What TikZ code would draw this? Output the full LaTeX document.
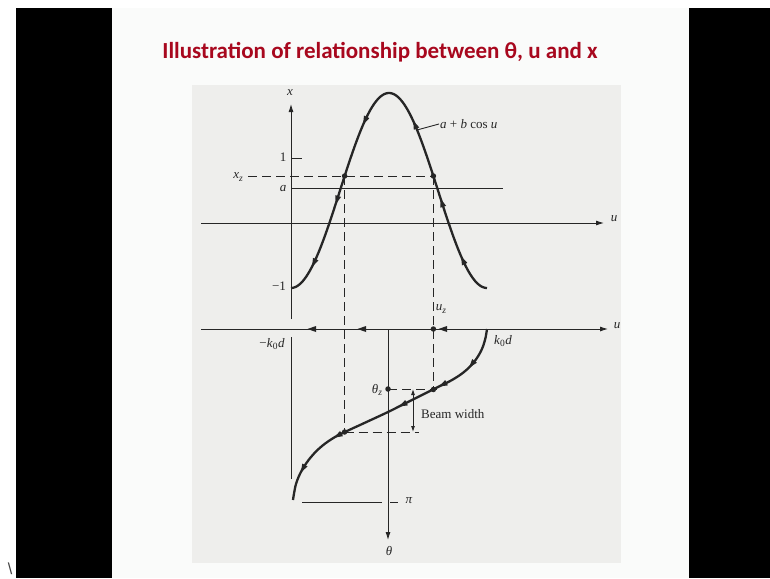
\documentclass[tikz,border=0pt]{standalone}
\usepackage{fontspec}
\setmainfont{Liberation Serif}
\newfontfamily\titlefont{Carlito}
\newfontfamily\sansf{Liberation Sans}
\usetikzlibrary{arrows.meta}
\definecolor{titlered}{RGB}{168,8,30}
\definecolor{ink}{RGB}{38,38,38}
\definecolor{scan}{RGB}{238,238,236}
\definecolor{slide}{RGB}{250,251,250}
\newcommand\arrowmark[3]{\fill[ink, shift={(#1,#2)}, rotate=#3] (4.5pt,0pt) -- (-4pt,3pt) -- (-4pt,-3pt) -- cycle;}
\newcommand\lsub[1]{\raisebox{-0.45ex}{\fontsize{9.5}{10}\selectfont #1}}
\newcommand\iv[1]{\textit{#1}}
\begin{document}
\begin{tikzpicture}[x=1pt,y=-1pt,
  thinline/.style={ink, line width=0.9pt},
  curve/.style={ink, line width=2.3pt, line join=round},
  dashline/.style={ink, line width=0.9pt, dash pattern=on 9pt off 5pt},
  dot/.style={circle, fill=ink, inner sep=0pt, minimum size=5.5pt},
  lbl/.style={text=ink, font=\fontsize{13}{15}\selectfont, inner sep=0pt},
  axarrow/.style={-{Latex[length=8pt,width=5pt]}},
]
\useasboundingbox (0,0) rectangle (770,578);
\fill[white] (0,0) rectangle (770,578);
\fill[black] (16,8) rectangle (112,578);
\fill[black] (689,8) rectangle (770,578);
\fill[slide] (112,8) rectangle (689,578);
\fill[scan] (192,85) rectangle (621,563);

\node[font=\titlefont\bfseries\fontsize{23}{26}\selectfont, text=titlered, inner sep=0pt] (title) at (380,52) {Illustration of relationship between θ, u and x};
\node[font=\sansf\fontsize{16}{16}\selectfont, text=black!75, inner sep=0pt] (bs) at (10,569) {\textbackslash};

% coordinates
\coordinate (xtop) at (291,104);
\coordinate (xbot) at (291,319);
\coordinate (u1L) at (201,223);
\coordinate (u1R) at (604,223);
\coordinate (u2L) at (201,329);
\coordinate (u2R) at (608,329);
\coordinate (kL1) at (291,337);
\coordinate (kL2) at (291,479);
\coordinate (thTop) at (388,329);
\coordinate (thBot) at (388,540);
\coordinate (aL) at (291,188);
\coordinate (aR) at (503,188);
\coordinate (t1a) at (291,158);
\coordinate (t1b) at (302,158);
\coordinate (xzL) at (248,176);
\coordinate (piL) at (302,502);
\coordinate (piR) at (382,502);
\coordinate (piTa) at (390,502);
\coordinate (piTb) at (398,502);
\coordinate (thzR) at (437,389);
\coordinate (bdL) at (344.6,432);
\coordinate (bdR) at (419,432);
\coordinate (bwT) at (413,389);
\coordinate (bwB) at (413,432);
\coordinate (ldA) at (417,130);
\coordinate (ldB) at (439,124);

% axes
\draw[thinline, axarrow] (xbot) -- (xtop);
\draw[thinline, axarrow] (u1L) -- (u1R);
\draw[thinline, axarrow] (u2L) -- (u2R);
\draw[thinline] (kL1) -- (kL2);
\draw[thinline, axarrow] (thTop) -- (thBot);
\draw[thinline] (aL) -- (aR);
\draw[thinline] (t1a) -- (t1b);
\draw[thinline] (piL) -- (piR);
\draw[thinline] (piTa) -- (piTb);

% dots
\node[dot] (pxzL) at (344.6,176) {};
\node[dot] (pxzR) at (433.4,176) {};
\node[dot] (puz) at (433.4,329) {};
\node[dot] (pthz) at (388,389) {};
\node[dot] (pc1) at (433.4,389.5) {};
\node[dot] (pc2) at (344.6,432) {};

% dashed lines
\draw[dashline] (xzL) -- (pxzR.center);
\draw[dashline] (pxzL.center) -- (pc2.center);
\draw[dashline] (pxzR.center) -- (pc1.center);
\draw[dashline] (pthz.center) -- (thzR);
\draw[dashline] (bdL) -- (bdR);

% beam width
\draw[thinline, {Latex[length=6pt,width=4pt]}-{Latex[length=6pt,width=4pt]}] (bwT) -- (bwB);

% upper curve
\draw[curve] plot[domain=98:-98, samples=150, smooth] ({389+\x}, {223-65*(0.5+1.5*cos(1.83673*(\x)))});
\foreach \t in {74,53,26,-24,-52,-75}{
  \pgfmathsetmacro\px{389+\t}
  \pgfmathsetmacro\py{223-65*(0.5+1.5*cos(1.83673*(\t)))}
  \pgfmathsetmacro\ang{atan2(3.126*sin(1.83673*(\t)),-1)}
  \arrowmark{\px}{\py}{\ang}
}
\draw[thinline] (ldA) -- (ldB);

% lower curve
\draw[curve] plot[smooth, tension=0.6] coordinates {(487,329) (485,340) (481,351) (474,362) (464,372) (452,380) (441,385.5) (433,389.5) (418,397) (403,404.5) (388,412) (373,419) (360,425) (347,431) (335,437) (322,446) (311,457) (302,470) (296,484) (293,500)};
\arrowmark{472}{364}{231}
\arrowmark{443}{384.5}{207}
\arrowmark{403}{404.5}{207}
\arrowmark{338}{435.5}{209}
\arrowmark{303}{468.5}{241}

% arrows on lower u axis
\arrowmark{312}{329}{180}
\arrowmark{362}{329}{180}
\arrowmark{443}{329}{180}

% labels
\node[lbl] (lx) at (290,93) {\iv{x}};
\node[lbl] (l1) at (283,157) {1};
\node[lbl] (lxz) at (238,177) {\iv{x}\lsub{\iv{z}}};
\node[lbl] (la) at (283,189) {\iv{a}};
\node[lbl] (lm1) at (279,286) {−1};
\node[lbl] (lu1) at (614,219) {\iv{u}};
\node[lbl] (lu2) at (617,326) {\iv{u}};
\node[lbl] (lmk) at (272,344) {−\iv{k}\lsub{0}\kern0.5pt\iv{d}};
\node[lbl] (luz) at (441,309) {\iv{u}\lsub{\iv{z}}};
\node[lbl] (lkd) at (503,341) {\iv{k}\lsub{0}\kern0.5pt\iv{d}};
\node[lbl] (lthz) at (377,390) {\iv{θ}\lsub{\iv{z}}};
\node[lbl] (lpi) at (409,501) {\iv{π}};
\node[lbl] (lth) at (389,551) {\iv{θ}};
\node[lbl, anchor=west] (lbw) at (421,414) {Beam width};
\node[lbl, anchor=west] (lcos) at (440,124) {\iv{a} + \iv{b} cos \iv{u}};
\end{tikzpicture}
\end{document}
